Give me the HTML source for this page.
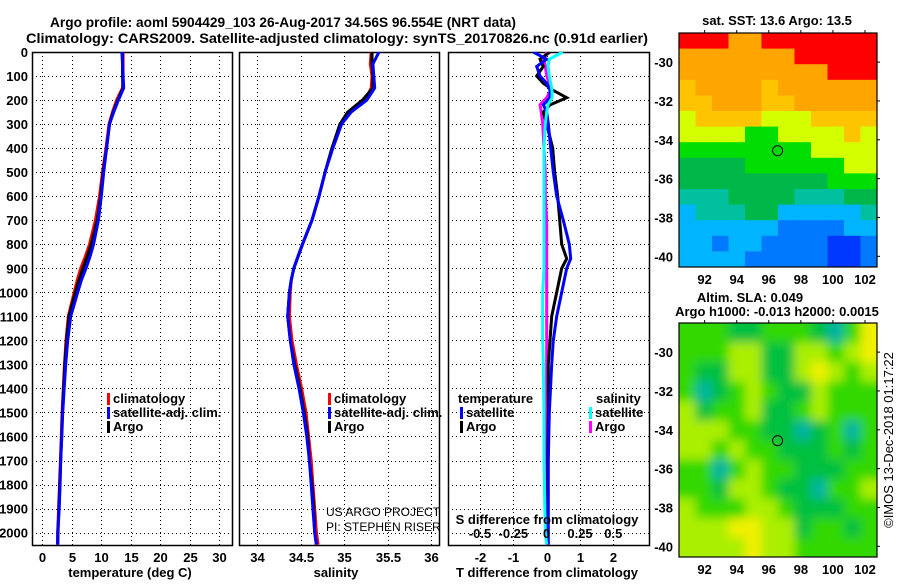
<!DOCTYPE html>
<html><head><meta charset="utf-8">
<style>
body{margin:0;background:#fff;}
svg text{font-family:"Liberation Sans",sans-serif;font-weight:bold;fill:#000;}
</style></head>
<body>
<svg id="fig" width="900" height="580" viewBox="0 0 900 580" xmlns="http://www.w3.org/2000/svg">
<defs>
<clipPath id="c1"><rect x="32" y="52" width="200" height="493"/></clipPath>
<clipPath id="c2"><rect x="239" y="52" width="200" height="493"/></clipPath>
<clipPath id="c3"><rect x="448" y="52" width="201" height="493"/></clipPath>
<clipPath id="cm1"><rect x="679" y="33" width="198" height="234"/></clipPath>
<clipPath id="cm2"><rect x="679" y="323" width="198" height="234"/></clipPath>
<filter id="blur" x="-5%" y="-5%" width="110%" height="110%"><feGaussianBlur stdDeviation="5"/></filter>
</defs>
<text x="50" y="27" font-size="14" textLength="466" lengthAdjust="spacingAndGlyphs">Argo profile: aoml 5904429_103 26-Aug-2017 34.56S 96.554E (NRT data)</text>
<text x="26" y="43" font-size="14" textLength="622" lengthAdjust="spacingAndGlyphs">Climatology: CARS2009. Satellite-adjusted climatology: synTS_20170826.nc (0.91d earlier)</text>
<g id="g"></g>
</svg>
<script>
// ---- profile data ----
const depths=[0,50,100,150,200,250,300,400,500,600,700,800,850,900,950,1000,1100,1200,1300,1400,1500,1600,1700,1800,1900,2000,2050];
const tArgo=[13.6,13.6,13.6,13.7,12.8,12.0,11.4,10.9,10.3,9.9,9.3,8.3,7.6,6.9,6.2,5.6,4.5,4.1,3.8,3.6,3.4,3.25,3.1,2.95,2.8,2.65,2.6];
const tClim=[13.7,13.7,13.7,13.6,12.6,11.9,11.3,10.8,10.2,9.7,9.0,8.0,7.3,6.5,5.9,5.4,4.4,4.0,3.75,3.55,3.35,3.2,3.05,2.9,2.75,2.6,2.6];
const tSat=[13.5,13.6,13.7,13.8,12.9,12.1,11.4,10.9,10.4,10.0,9.5,8.7,8.1,7.4,6.6,6.0,4.8,4.3,3.95,3.7,3.45,3.3,3.1,3.0,2.85,2.6,2.6];
const sArgo=[35.32,35.32,35.33,35.33,35.21,35.04,34.95,34.86,34.78,34.71,34.63,34.52,34.47,34.42,34.39,34.37,34.35,34.38,34.43,34.49,34.54,34.58,34.6,34.63,34.65,34.66,34.68];
const sClim=[35.31,35.30,35.32,35.31,35.24,35.07,34.96,34.86,34.78,34.71,34.63,34.52,34.47,34.42,34.39,34.38,34.37,34.40,34.45,34.51,34.56,34.59,34.62,34.64,34.66,34.68,34.70];
const sSat=[35.4,35.33,35.34,35.35,35.26,35.08,34.97,34.87,34.78,34.71,34.63,34.52,34.47,34.42,34.39,34.37,34.35,34.38,34.42,34.48,34.53,34.57,34.6,34.62,34.64,34.66,34.68];
// ---- difference data ----
const dDepths=[0,30,60,100,130,160,190,220,250,300,400,500,600,700,800,860,900,1000,1100,1200,1300,1500,1700,2000,2050];
const dTArgo=[0.1,-0.2,-0.1,-0.3,-0.1,0.2,0.6,0.1,-0.1,0.0,0.18,0.24,0.33,0.39,0.45,0.6,0.45,0.3,0.15,0.1,0.05,0.05,0.03,0.03,0.03];
const dTSat=[-0.4,0.0,-0.3,-0.2,0.0,0.1,0.1,-0.1,0.0,0.05,0.12,0.2,0.3,0.5,0.68,0.72,0.6,0.45,0.3,0.2,0.15,0.08,0.05,0.05,0.05];
const dSSat=[0.12,0.02,0.01,0.02,0.03,0.04,0.04,0.01,0.0,-0.01,-0.02,-0.02,-0.02,-0.02,-0.02,-0.02,-0.02,-0.03,-0.03,-0.03,-0.025,-0.02,-0.02,-0.01,0];
const dSArgo=[0.0,-0.02,-0.01,0.0,0.02,0.03,0.0,-0.05,-0.04,-0.03,-0.02,-0.01,-0.01,0,0,0,0,0,0,0,0,0,0,0,0];
// ---- ticks ----
const depthTicks=[0,100,200,300,400,500,600,700,800,900,1000,1100,1200,1300,1400,1500,1600,1700,1800,1900,2000];
const tTicks=[0,5,10,15,20,25,30];
const sTicks=[34,34.5,35,35.5,36];
const sTickLabels=["34","34.5","35","35.5","36"];
const dTTicks=[-2,-1,0,1,2];
const dSTicks=[-0.5,-0.25,0,0.25,0.5];
const dSTickLabels=["-0.5","-0.25","0","0.25","0.5"];
const lonTicks=[92,94,96,98,100,102];
const latTicks=[-30,-32,-34,-36,-38,-40];
// ---- map data ----
const sstPalette=["#ff0000","#ffa500","#ffc400","#d4ff00","#00dd00","#00b84a","#00c0a0","#00b4ff","#0078ff","#0038ff"];
const sstGrid=[
[0,0,0,1,1,0,0,0,0,0,0,0],
[1,1,1,1,1,1,1,0,0,0,0,0],
[1,1,1,1,1,1,1,1,1,0,0,0],
[2,1,1,1,1,2,1,1,1,1,1,1],
[2,2,1,1,1,2,2,1,1,1,1,1],
[3,2,2,2,2,3,3,3,2,2,2,2],
[3,3,3,3,4,4,3,3,3,3,2,3],
[4,4,4,4,4,4,4,4,3,3,3,3],
[5,5,5,5,4,4,4,4,4,4,3,3],
[5,5,5,5,5,5,5,5,5,4,4,4],
[6,6,6,5,5,5,5,6,6,6,5,5],
[7,6,6,6,5,5,7,7,7,7,7,6],
[7,7,7,7,7,7,8,8,8,8,7,7],
[7,7,8,7,7,8,8,8,8,9,9,8],
[7,7,7,7,8,8,8,8,8,9,9,8]];
const slaPalette=["#00b4a0","#00c040","#33d800","#aaee00","#f0f000"];
const slaGrid=[
[2,2,2,1,1,2,2,2,1,0,2,4],
[2,2,2,3,3,1,1,3,3,2,3,4],
[2,1,1,3,3,1,1,3,4,3,2,3],
[2,0,1,2,3,2,1,1,3,2,2,2],
[3,1,2,2,3,1,1,2,3,2,2,2],
[3,3,3,2,2,1,1,0,1,2,0,2],
[3,3,2,3,2,2,1,1,1,2,1,2],
[2,2,0,2,3,2,2,1,1,1,2,2],
[2,2,1,3,3,2,1,1,0,2,2,3],
[3,2,2,2,3,3,2,1,1,1,2,2],
[3,3,3,4,4,3,3,1,2,2,1,2],
[3,3,3,3,4,3,3,2,2,2,2,2]];
const floatLon=96.55, floatLat=-34.56;

const NS="http://www.w3.org/2000/svg";
const G=document.getElementById('g');
function mk(tag,attrs,parent){const e=document.createElementNS(NS,tag);for(const k in attrs)e.setAttribute(k,attrs[k]);(parent||G).appendChild(e);return e;}
function txt(s,x,y,size,anchor,parent){const t=mk('text',{x:x,y:y,'font-size':size,'text-anchor':anchor||'middle'},parent);t.textContent=s;return t;}

const yTop=52, yBot=545, pxPerM=0.2403;
const yD=d=>yTop+d*pxPerM;
const panels=[
 {x0:32,x1:232,vmin:-1.77,vmax:32.2,clip:'c1',name:'temperature'},
 {x0:239,x1:439,vmin:33.79,vmax:36.09,clip:'c2',name:'salinity'},
 {x0:448,x1:649,vmin:-2.96,vmax:3.07,clip:'c3',name:'difference'}];
function xf(p){return v=>p.x0+(v-p.vmin)/(p.vmax-p.vmin)*(p.x1-p.x0);}
const xT=xf(panels[0]), xS=xf(panels[1]), xDT=xf(panels[2]);
const xDS=v=>xDT(v*4);

function frame(p,xticks,xfun,labels){
  const g=mk('g',{});
  
  
  depthTicks.forEach(d=>{const y=Math.round(yD(d))+0.5;const l=mk('line',{x1:p.x0,x2:p.x1,y1:y,y2:y,stroke:'#000','stroke-width':1,'stroke-dasharray':'1,3','shape-rendering':'crispEdges'},g);
    });
  xticks.forEach((v,i)=>{const x=Math.round(xfun(v))+0.5;
    const l=mk('line',{x1:x,x2:x,y1:yTop,y2:yBot,stroke:'#000','stroke-dasharray':'1,3','shape-rendering':'crispEdges'},g);
    
    if(labels){const t=txt(labels[i],x,562,13,'middle',g);}
  });
  const r=mk('rect',{x:p.x0+0.5,y:yTop+0.5,width:p.x1-p.x0,height:yBot-yTop,fill:'none',stroke:'#000','stroke-width':1.5},g);
  
  return g;
}
function line(xs,ds,xfun,color,clip,name){
  const pts=xs.map((v,i)=>xfun(v).toFixed(1)+','+yD(ds[i]).toFixed(1)).join(' ');
  const l=mk('polyline',{points:pts,fill:'none',stroke:color,'stroke-width':3,'stroke-linejoin':'miter','clip-path':'url(#'+clip+')'});
  
  
}
frame(panels[0],tTicks,xT,tTicks.map(String));
frame(panels[1],sTicks,xS,sTickLabels);
frame(panels[2],dTTicks,xDT,dTTicks.map(String));
depthTicks.forEach(d=>{const t=txt(String(d),28,yD(d)+5,13,'end');
  });
line(tClim,depths,xT,'#ff0000','c1','temperature-climatology-line');
line(tArgo,depths,xT,'#000000','c1','temperature-argo-line');
line(tSat,depths,xT,'#0000ff','c1','temperature-satellite-line');
line(sClim,depths,xS,'#ff0000','c2','salinity-climatology-line');
line(sArgo,depths,xS,'#000000','c2','salinity-argo-line');
line(sSat,depths,xS,'#0000ff','c2','salinity-satellite-line');
line(dSArgo,dDepths,xDS,'#ff00ff','c3','salinity-argo-diff-line');
line(dTArgo,dDepths,xDT,'#000000','c3','temperature-argo-diff-line');
line(dTSat,dDepths,xDT,'#0000ff','c3','temperature-satellite-diff-line');
line(dSSat,dDepths,xDS,'#00ffff','c3','salinity-satellite-diff-line');
dSTicks.forEach((v,i)=>{const t=txt(dSTickLabels[i],xDS(v),538,13,'middle');
  });
let t;
t=txt('S difference from climatology',547,524,13,'middle');
t=txt('temperature (deg C)',130,577,13,'middle');
t=txt('salinity',336,577,13,'middle');
t=txt('T difference from climatology',547,577,13,'middle');
function legend(x,y,color,label,name){
  const r=mk('rect',{x:x,y:y-10,width:3,height:12,fill:color});
  
  const tt=txt(label,x+6,y,13,'start');
}
legend(107,403,'#ff0000','climatology','legend-climatology-t');
legend(107,417,'#0000ff','satellite-adj. clim.','legend-satellite-t');
legend(107,431,'#000000','Argo','legend-argo-t');
legend(328,403,'#ff0000','climatology','legend-climatology-s');
legend(328,417,'#0000ff','satellite-adj. clim.','legend-satellite-s');
legend(328,431,'#000000','Argo','legend-argo-s');
t=txt('temperature',458,403,13,'start');
t=txt('salinity',596,403,13,'start');
legend(460,417,'#0000ff','satellite','legend-t-satellite');
legend(460,431,'#000000','Argo','legend-t-argo');
legend(589,417,'#00ffff','satellite','legend-s-satellite');
legend(589,431,'#ff00ff','Argo','legend-s-argo');
t=mk('text',{x:326,y:516,'font-size':12,'text-anchor':'start'});t.textContent='US ARGO PROJECT';t.style.fontWeight='normal';

t=mk('text',{x:326,y:531,'font-size':12,'text-anchor':'start'});t.textContent='PI: STEPHEN RISER';t.style.fontWeight='normal';


const lonMin=90.4, lonMax=102.75, latMax=-28.5, latMin=-40.55;
function mapAxes(y0,h){
  const mx=lon=>679+(lon-lonMin)/(lonMax-lonMin)*198;
  const my=lat=>y0+(latMax-lat)/(latMax-latMin)*h;
  return {mx,my};
}
function drawMap(y0,grid,pal,clip,name,blur){
  const h=234;const {mx,my}=mapAxes(y0,h);
  const g=mk('g',{'clip-path':'url(#'+clip+')'});
  
  const inner=mk('g',blur?{filter:'url(#blur)'}:{},g);
  const rows=grid.length, cols=grid[0].length;
  const cw=(lonMax-lonMin)/cols, ch=(latMax-latMin)/rows;
  if(blur){mk('rect',{x:669,y:y0-10,width:218,height:h+20,fill:pal[2]},inner);}
  grid.forEach((row,i)=>row.forEach((v,j)=>{
    const xa=mx(lonMin+j*cw), xb=mx(lonMin+(j+1)*cw), ya=my(latMax-i*ch), yb=my(latMax-(i+1)*ch);
    const ex=blur&&(j==0||j==cols-1)?10:0, ey=blur&&(i==0||i==rows-1)?10:0;
    const c=mk('rect',{x:(xa-(j==0?ex:0)).toFixed(1),y:(ya-(i==0?ey:0)).toFixed(1),width:(xb-xa+ex+0.6).toFixed(1),height:(yb-ya+ey+0.6).toFixed(1),fill:pal[v]},inner);
    
    
  }));
  const m=mk('circle',{cx:mx(floatLon),cy:my(floatLat),r:5,fill:'none',stroke:'#000','stroke-width':1});
  
  const fr=mk('rect',{x:679,y:y0,width:198,height:h,fill:'none',stroke:'#000','stroke-width':1.2});
  
  lonTicks.forEach(l=>{const x=mx(l);
    mk('line',{x1:x,x2:x,y1:y0-3,y2:y0,stroke:'#000'});
    const tl=txt(String(l),x,y0+h+17,13,'middle');});
  latTicks.forEach(l=>{const y=my(l);
    mk('line',{x1:877,x2:880,y1:y,y2:y,stroke:'#000'});
    const tl=txt(String(l),673,y+5,13,'end');});
}
drawMap(33,sstGrid,sstPalette,'cm1','sst-map',false);
drawMap(323,slaGrid,slaPalette,'cm2','sla-map',true);
t=txt('sat. SST: 13.6  Argo: 13.5',777,25,13,'middle');
t=txt('Altim. SLA: 0.049',750,302,13,'middle');
t=txt('Argo h1000: -0.013 h2000: 0.0015',777,316,13,'middle');
t=mk('text',{x:0,y:0,'font-size':13,'text-anchor':'middle',transform:'translate(893,440) rotate(-90)'});t.textContent='©IMOS 13-Dec-2018 01:17:22';t.style.fontWeight='normal';

</script>
</body></html>
